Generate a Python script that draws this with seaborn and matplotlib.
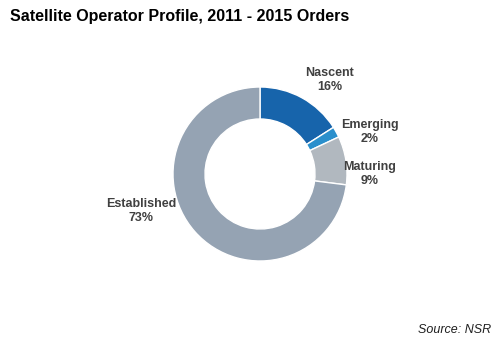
import numpy as np
import seaborn as sns
import matplotlib.pyplot as plt

sns.set_style("white")
plt.rcParams['font.family'] = ['Liberation Sans', 'DejaVu Sans']

categories = ['Nascent', 'Emerging', 'Maturing', 'Established']
shares = [16, 2, 9, 73]
colors = ['#1764ab', '#2a8fcc', '#b1b8bf', '#95a3b3']

# label anchor points in pixel offsets from the donut centre
label_pos = [(70, 94), (110, 42), (110, 0), (-119, -37)]

W, H = 503, 351
fig = plt.figure(figsize=(W / 100, H / 100), dpi=100)

cx, cy, r = 260, 174, 87
ax = fig.add_axes([(cx - r) / W, (H - cy - r) / H, 2 * r / W, 2 * r / H])
ax.pie(shares, colors=colors, startangle=90, counterclock=False, radius=1,
       wedgeprops=dict(width=32 / 87, edgecolor='white', linewidth=1))
ax.set_xlim(-1, 1)
ax.set_ylim(-1, 1)
ax.set_aspect('auto')
ax.axis('off')

for name, val, (dx, dy) in zip(categories, shares, label_pos):
    fig.text((cx + dx) / W, (H - cy + dy) / H, f"{name}\n{val}%",
             ha='center', va='center', fontsize=9, fontweight='bold',
             color='#404040', linespacing=1.25)

fig.text(10 / W, 1 - 16 / H, "Satellite Operator Profile, 2011 - 2015 Orders",
         ha='left', va='center', fontsize=11.5, fontweight='bold', color='black')
fig.text(491 / W, 1 - 330 / H, "Source: NSR", ha='right', va='center',
         fontsize=9, style='italic', color='#202020')

fig.savefig('out.png', dpi=100)
